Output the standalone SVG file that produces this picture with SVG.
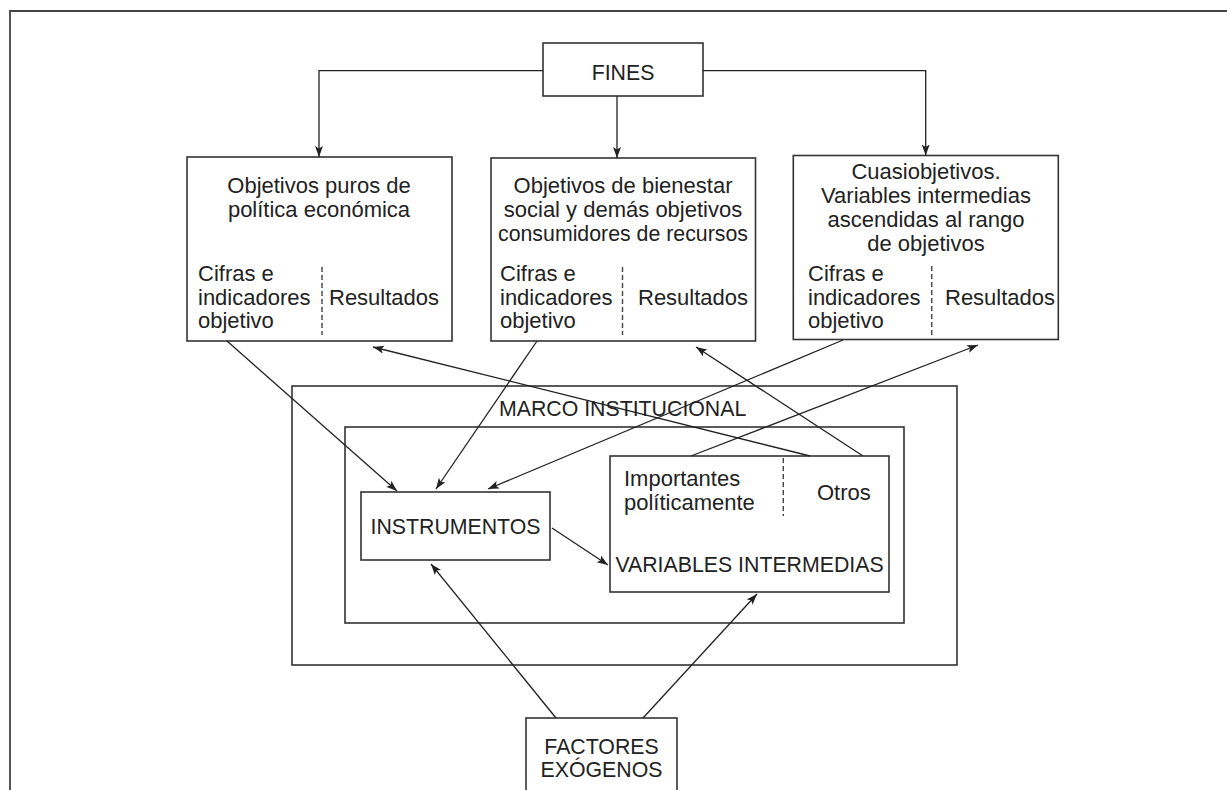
<svg xmlns="http://www.w3.org/2000/svg" width="1227" height="790" viewBox="0 0 1227 790">
<defs>
<style>
.box{fill:#fff;stroke:#333;stroke-width:1.6}
.frame{fill:none;stroke:#444;stroke-width:1.8}
.t{font-family:"Liberation Sans",Arial,sans-serif;font-size:22px;fill:#222}
.k{font-size:21.3px}
.c{text-anchor:middle}
.dash{stroke:#444;stroke-width:1.4;stroke-dasharray:5 3;fill:none}
.con{fill:none;stroke:#222;stroke-width:1.3;marker-end:url(#ah)}
</style>
<marker id="ah" markerUnits="userSpaceOnUse" markerWidth="12" markerHeight="9" refX="11" refY="4" orient="auto">
<path d="M0,0 L11,4 L0,8 L2.5,4 Z" fill="#222"/>
</marker>
</defs>
<rect width="1227" height="790" fill="#fff"/>
<path class="frame" d="M10,800 L10,11 L1230,11"/>

<g id="marco">
<rect class="box" x="292" y="386" width="665" height="279"/>
<text class="t k" x="499" y="416">MARCO INSTITUCIONAL</text>
<rect class="box" x="345" y="427" width="559" height="196"/>
</g>

<g id="fines">
<rect class="box" x="543" y="43" width="160" height="53"/>
<text class="t k c" x="623" y="80">FINES</text>
</g>

<g id="obj-puros">
<rect class="box" x="187" y="157" width="265" height="184"/>
<text class="t c" x="319" y="193">Objetivos puros de</text>
<text class="t c" x="319" y="217">política económica</text>
<text class="t" x="198" y="281">Cifras e</text>
<text class="t" x="198" y="304.5">indicadores</text>
<text class="t" x="198" y="328">objetivo</text>
<line class="dash" x1="322" y1="267" x2="322" y2="335"/>
<text class="t" x="329" y="304.5">Resultados</text>
</g>

<g id="obj-bienestar">
<rect class="box" x="491" y="158" width="264.5" height="183"/>
<text class="t c" x="623" y="193">Objetivos de bienestar</text>
<text class="t c" x="623" y="217">social y demás objetivos</text>
<text class="t c" x="623" y="241" textLength="250" lengthAdjust="spacingAndGlyphs">consumidores de recursos</text>
<text class="t" x="500" y="281">Cifras e</text>
<text class="t" x="500" y="304.5">indicadores</text>
<text class="t" x="500" y="328">objetivo</text>
<line class="dash" x1="622.5" y1="267" x2="622.5" y2="335"/>
<text class="t" x="638" y="304.5">Resultados</text>
</g>

<g id="cuasiobjetivos">
<rect class="box" x="793.3" y="155.5" width="265" height="184"/>
<text class="t c" x="926" y="179">Cuasiobjetivos.</text>
<text class="t c" x="926" y="203">Variables intermedias</text>
<text class="t c" x="926" y="227">ascendidas al rango</text>
<text class="t c" x="926" y="251">de objetivos</text>
<text class="t" x="808" y="281">Cifras e</text>
<text class="t" x="808" y="304.5">indicadores</text>
<text class="t" x="808" y="328">objetivo</text>
<line class="dash" x1="931.7" y1="266" x2="931.7" y2="335"/>
<text class="t" x="945" y="304.5">Resultados</text>
</g>

<g id="instrumentos">
<rect class="box" x="361" y="492" width="189" height="68"/>
<text class="t k c" x="455.5" y="534">INSTRUMENTOS</text>
</g>

<g id="variables">
<rect class="box" x="610" y="456" width="279" height="136"/>
<text class="t" x="624" y="486">Importantes</text>
<text class="t" x="624" y="510">políticamente</text>
<line class="dash" x1="783.3" y1="458" x2="783.3" y2="516"/>
<text class="t" x="817" y="499.5">Otros</text>
<text class="t k c" x="749.5" y="572">VARIABLES INTERMEDIAS</text>
</g>

<g id="factores">
<rect class="box" x="526" y="718" width="151" height="90"/>
<text class="t k c" x="601.5" y="754">FACTORES</text>
<text class="t k c" x="601.5" y="777">EXÓGENOS</text>
</g>

<g id="connectors">
<path class="con" d="M543,70.7 L319,70.7 L319,157"/>
<path class="con" d="M617,96 L617,158"/>
<path class="con" d="M703,70.7 L925.7,70.7 L925.7,155.5"/>
<path class="con" d="M227,341 L397,491"/>
<path class="con" d="M537,341 L436,489"/>
<path class="con" d="M843,340 L488,489"/>
<path class="con" d="M810,456 L373,347"/>
<path class="con" d="M863,456 L696,347"/>
<path class="con" d="M691,456 L978,345"/>
<path class="con" d="M552,528 L608,565"/>
<path class="con" d="M556,718 L431,564"/>
<path class="con" d="M643,718 L757,594"/>
</g>
</svg>
